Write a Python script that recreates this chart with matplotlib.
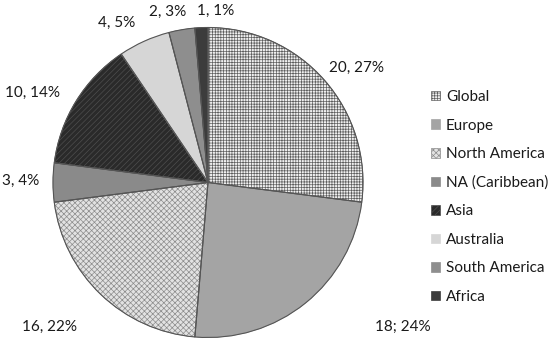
import matplotlib
matplotlib.use("Agg")
import matplotlib.pyplot as plt

plt.rcParams['font.family'] = ['Lato', 'DejaVu Sans']
plt.rcParams['hatch.linewidth'] = 0.5

regions = ["Global", "Europe", "North America", "NA (Caribbean)", "Asia",
           "Australia", "South America", "Africa"]
counts = [20, 18, 16, 3, 10, 4, 2, 1]
seps = [", ", "; ", ", ", ", ", ", ", ", ", ", ", ", "]

# fill, hatch, hatch colour for each slice
fills = ["#f0f0f0", "#a4a4a4", "#e2e2e2", "#8a8a8a", "#2a2a2a", "#d6d6d6", "#8e8e8e", "#3c3c3c"]
hatches = ["++++++", "", "xxxxxx", "", "//////", "", "", ""]
hcols = ["#5e5e5e", "#a4a4a4", "#8c8c8c", "#8a8a8a", "#4e4e4e", "#d6d6d6", "#8e8e8e", "#3c3c3c"]

# label positions, in pie radii from the centre
lab_xy = [(0.96, 0.74), (1.26, -0.93), (-1.02, -0.93), (-1.21, 0.01),
          (-1.13, 0.58), (-0.59, 1.03), (-0.26, 1.10), (0.05, 1.11)]

fig = plt.figure(figsize=(5.5, 3.43), dpi=100)
ax = fig.add_axes([53 / 550, 5.5 / 343, 310 / 550, 310 / 343])

wedges, _ = ax.pie(counts, startangle=90, counterclock=False, radius=1,
                   colors=fills, wedgeprops=dict(linewidth=0.5))
for w, h, c in zip(wedges, hatches, hcols):
    w.set_hatch(h)
    w.set_edgecolor(c)

# outlines on top
outl, _ = ax.pie(counts, startangle=90, counterclock=False, radius=1,
                 colors=["none"] * len(counts),
                 wedgeprops=dict(linewidth=0.8, edgecolor="#555555", fill=False))

total = sum(counts)
for n, s, (x, y) in zip(counts, seps, lab_xy):
    ax.text(x, y, f"{n}{s}{round(100 * n / total)}%", ha="center", va="center",
            fontsize=11, color="#1a1a1a")

ax.set_xlim(-1, 1)
ax.set_ylim(-1, 1)
ax.set_aspect("equal")
ax.axis("off")

fig.legend(wedges, regions, loc="center left", bbox_to_anchor=(417 / 550, 146 / 343),
           frameon=False, fontsize=11, handlelength=0.6, handleheight=0.6,
           handletextpad=0.4, labelspacing=0.95, labelcolor="#1a1a1a")

fig.savefig("out.png", dpi=100)
